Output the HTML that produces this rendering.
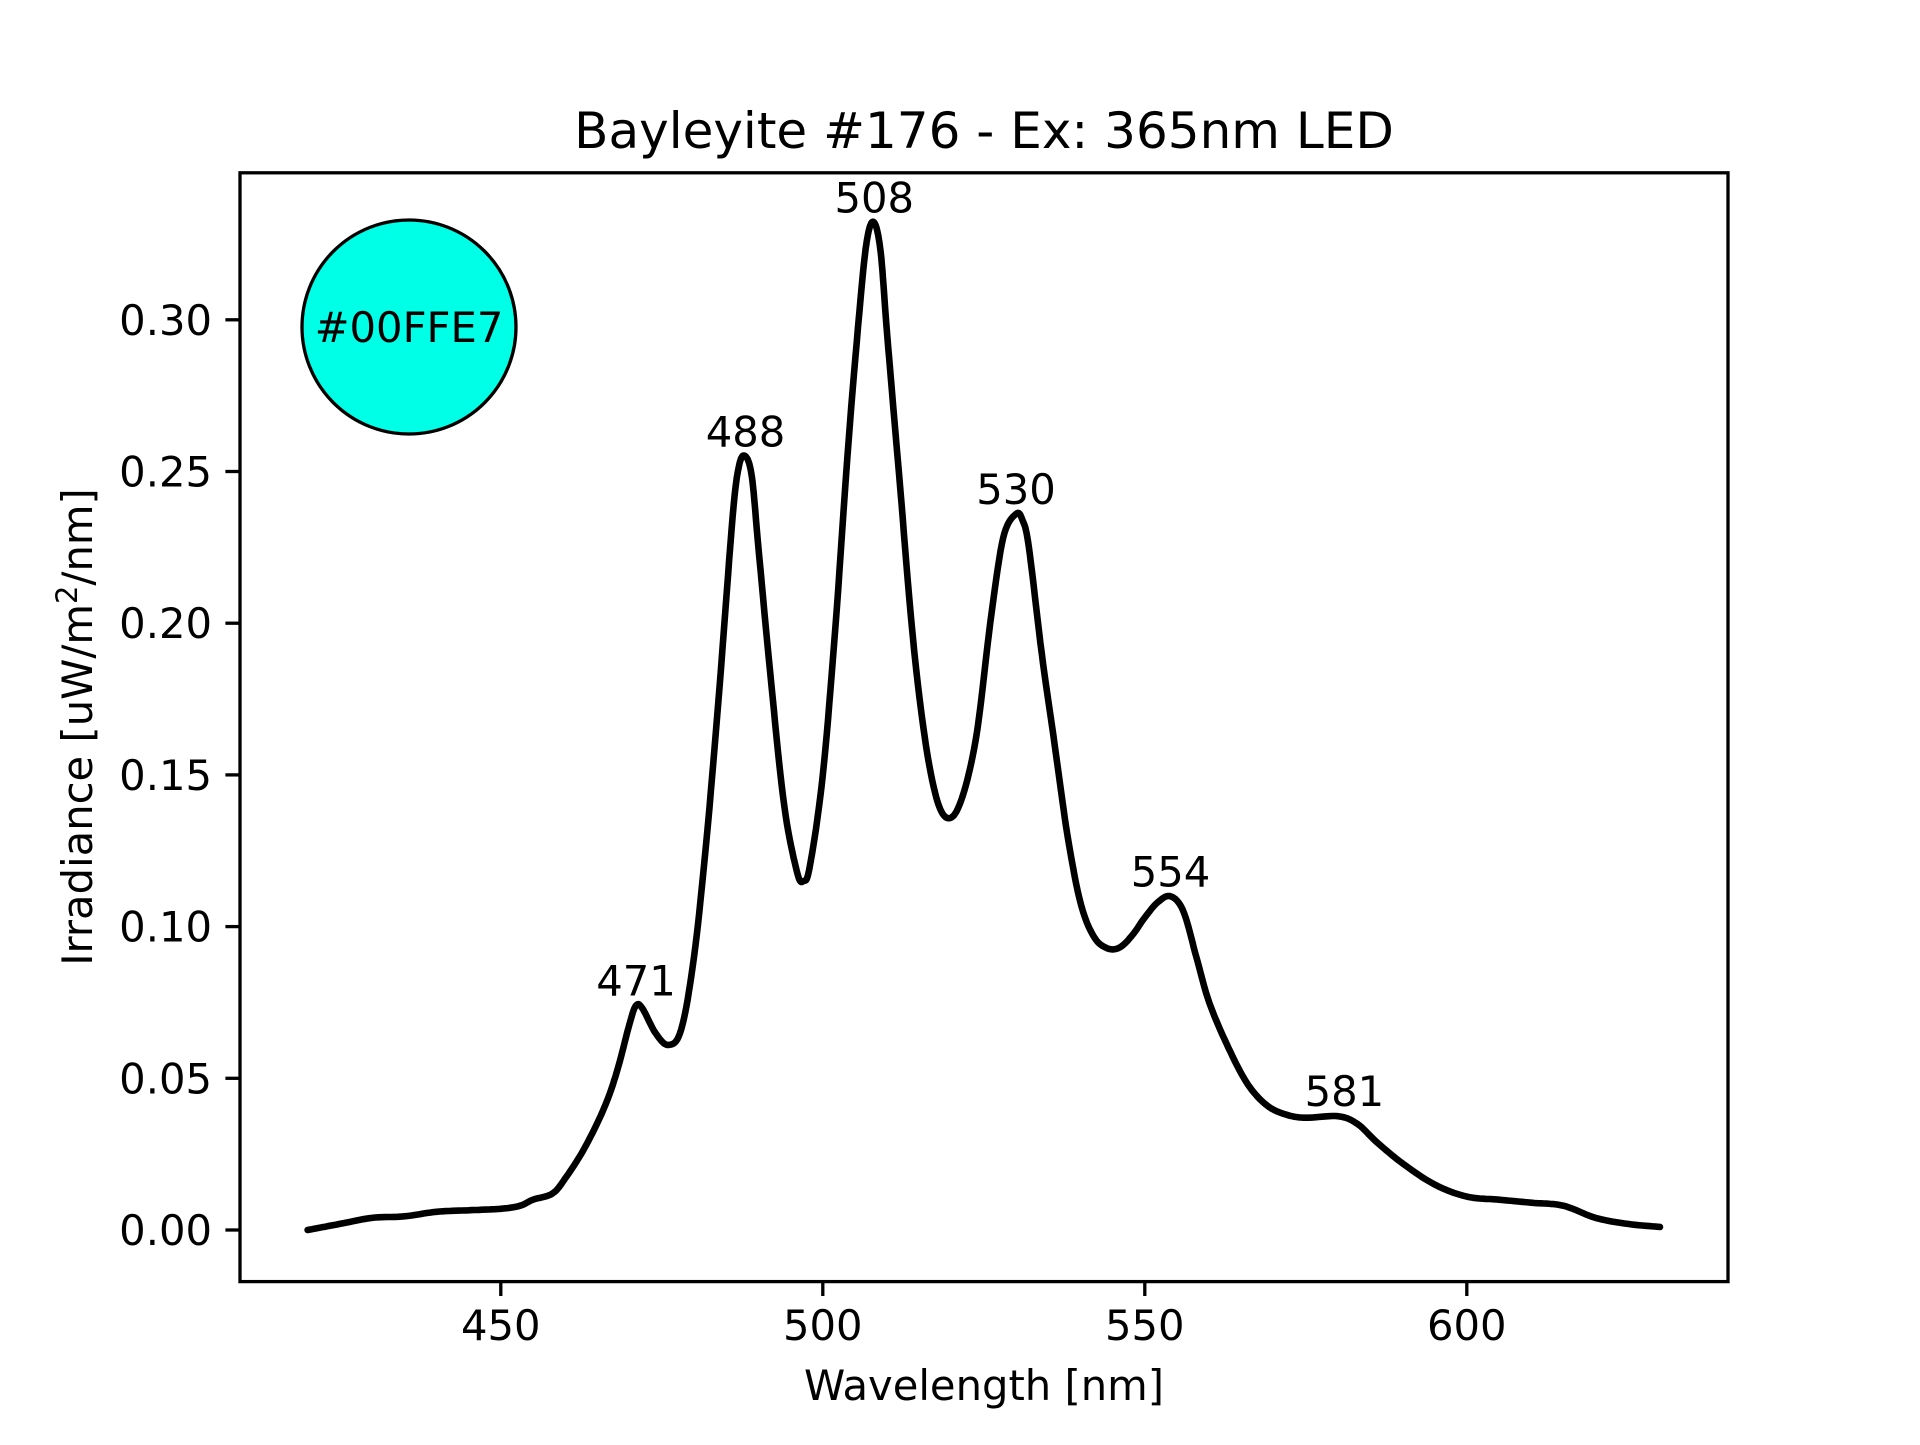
<!DOCTYPE html>
<html><head><meta charset="utf-8"><style>
html,body{margin:0;padding:0;background:#fff}
svg text{font-family:"DejaVu Sans","Liberation Sans",sans-serif;fill:#000}
</style></head><body>
<svg id="s" width="1920" height="1440" viewBox="0 0 1920 1440" xmlns="http://www.w3.org/2000/svg">
<rect width="1920" height="1440" fill="#fff"/>
<text x="984" y="148" font-size="50" text-anchor="middle">Bayleyite #176 - Ex: 365nm LED</text>
<g id="ticks" stroke="#000" stroke-width="3.3"></g>
<g id="labels" font-size="41.7"></g>
<polyline id="curve" fill="none" stroke="#000" stroke-width="6.6" stroke-linejoin="round" stroke-linecap="round"/>
<circle cx="409" cy="327" r="107" fill="#00FFE7" stroke="#000" stroke-width="3.3"/>
<text x="409" y="342" font-size="41.7" text-anchor="middle">#00FFE7</text>
<rect x="240" y="172.8" width="1488" height="1108.8" fill="none" stroke="#000" stroke-width="3.3"/>
<text x="984" y="1400" font-size="41.7" text-anchor="middle">Wavelength [nm]</text>
<text transform="translate(92,727) rotate(-90)" font-size="41.7" text-anchor="middle">Irradiance [uW/m<tspan font-size="29" dy="-15">2</tspan><tspan dy="15">/nm]</tspan></text>
</svg>
<script>
var d=[[420,0],[425,0.002],[430,0.004],[435,0.0045],[440,0.006],[445,0.0065],[450,0.007],[453,0.008],[455,0.01],[458,0.012],[460,0.017],[463,0.027],[466,0.040],[468,0.052],[470,0.068],[471,0.074],[472,0.073],[474,0.065],[476,0.061],[478,0.066],[480,0.09],[482,0.13],[484,0.18],[486,0.235],[487,0.252],[488,0.255],[489,0.248],[490,0.225],[492,0.18],[494,0.14],[496,0.118],[497,0.115],[498,0.12],[500,0.15],[502,0.2],[504,0.26],[506,0.31],[507,0.328],[508,0.332],[509,0.322],[510,0.295],[512,0.245],[514,0.195],[516,0.16],[518,0.14],[520,0.136],[522,0.145],[524,0.165],[526,0.2],[528,0.228],[530,0.236],[531,0.234],[532,0.225],[534,0.19],[536,0.16],[538,0.13],[540,0.108],[542,0.097],[544,0.093],[546,0.093],[548,0.097],[550,0.103],[552,0.108],[554,0.110],[556,0.105],[558,0.09],[560,0.075],[563,0.06],[566,0.048],[569,0.041],[572,0.038],[575,0.037],[580,0.0375],[583,0.035],[586,0.029],[590,0.022],[595,0.015],[600,0.011],[605,0.01],[610,0.009],[615,0.008],[620,0.004],[625,0.002],[630,0.001]];
function X(w){return 500.8+(w-450)*6.44}
function Y(v){return 1230-v*3034}
var pts=[];
for(var i=0;i<d.length-1;i++){var p0=d[Math.max(0,i-1)],p1=d[i],p2=d[i+1],p3=d[Math.min(d.length-1,i+2)];
for(var t=0;t<1;t+=0.1){var t2=t*t,t3=t2*t;
function cr(a,b,c,e){return 0.5*(2*b+(-a+c)*t+(2*a-5*b+4*c-e)*t2+(-a+3*b-3*c+e)*t3)}
pts.push(X(cr(p0[0],p1[0],p2[0],p3[0])).toFixed(1)+","+Y(cr(p0[1],p1[1],p2[1],p3[1])).toFixed(1));}}
pts.push(X(630)+","+Y(0.001));
document.getElementById('curve').setAttribute('points',pts.join(' '));
var ns="http://www.w3.org/2000/svg",tk=document.getElementById('ticks'),lb=document.getElementById('labels');
function ln(a,b,c,e){var l=document.createElementNS(ns,'line');l.setAttribute('x1',a);l.setAttribute('y1',b);l.setAttribute('x2',c);l.setAttribute('y2',e);tk.appendChild(l)}
function tx(x,y,s,a){var t=document.createElementNS(ns,'text');t.setAttribute('x',x);t.setAttribute('y',y);t.setAttribute('text-anchor',a);t.textContent=s;lb.appendChild(t)}
[450,500,550,600].forEach(function(w){ln(X(w),1281.6,X(w),1296);tx(X(w),1340,w,'middle')});
for(var k=0;k<=6;k++){var v=k*0.05,y=Y(v);ln(240,y,225.4,y);tx(212,y+15,v.toFixed(2),'end')}
[[471,0.074],[488,0.255],[508,0.332],[530,0.236],[554,0.110],[581,0.0375]].forEach(function(p){tx(X(p[0]),Y(p[1])-10,p[0],'middle')});
</script>
</body></html>
